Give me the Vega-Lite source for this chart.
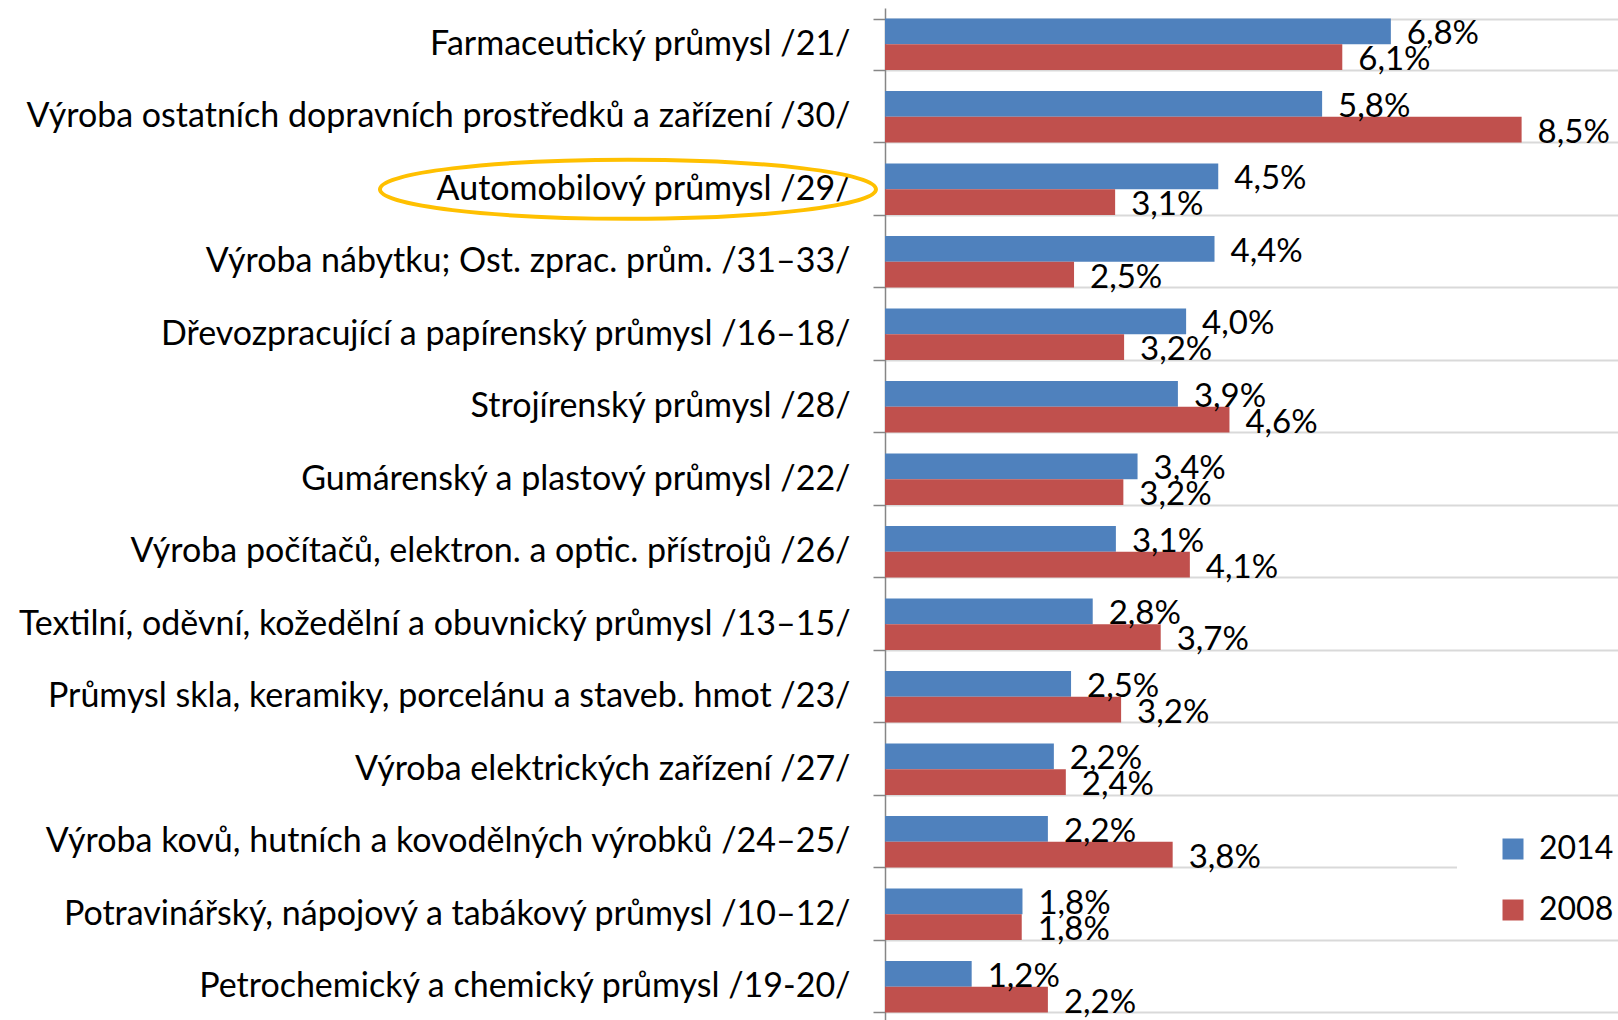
{
  "$schema": "https://vega.github.io/schema/vega-lite/v6.json",
  "autosize": "none",
  "width": 733,
  "height": 1015,
  "padding": {"left": 885, "top": 8, "right": 0, "bottom": 0},
  "background": "white",
  "config": {
    "view": {"stroke": null},
    "font": "Lato",
    "text": {"font": "Lato"}
  },
  "datasets": {
    "bars": [
      {"cat": "Farmaceutický průmysl /21/", "year": "2014", "value": 6.77, "label": "6,8%"},
      {"cat": "Farmaceutický průmysl /21/", "year": "2008", "value": 6.12, "label": "6,1%"},
      {"cat": "Výroba ostatních dopravních prostředků a zařízení /30/", "year": "2014", "value": 5.85, "label": "5,8%"},
      {"cat": "Výroba ostatních dopravních prostředků a zařízení /30/", "year": "2008", "value": 8.52, "label": "8,5%"},
      {"cat": "Automobilový průmysl /29/", "year": "2014", "value": 4.46, "label": "4,5%"},
      {"cat": "Automobilový průmysl /29/", "year": "2008", "value": 3.08, "label": "3,1%"},
      {"cat": "Výroba nábytku; Ost. zprac. prům. /31–33/", "year": "2014", "value": 4.41, "label": "4,4%"},
      {"cat": "Výroba nábytku; Ost. zprac. prům. /31–33/", "year": "2008", "value": 2.53, "label": "2,5%"},
      {"cat": "Dřevozpracující a papírenský průmysl /16–18/", "year": "2014", "value": 4.03, "label": "4,0%"},
      {"cat": "Dřevozpracující a papírenský průmysl /16–18/", "year": "2008", "value": 3.2, "label": "3,2%"},
      {"cat": "Strojírenský průmysl /28/", "year": "2014", "value": 3.92, "label": "3,9%"},
      {"cat": "Strojírenský průmysl /28/", "year": "2008", "value": 4.61, "label": "4,6%"},
      {"cat": "Gumárenský a plastový průmysl /22/", "year": "2014", "value": 3.38, "label": "3,4%"},
      {"cat": "Gumárenský a plastový průmysl /22/", "year": "2008", "value": 3.19, "label": "3,2%"},
      {"cat": "Výroba počítačů, elektron. a optic. přístrojů /26/", "year": "2014", "value": 3.09, "label": "3,1%"},
      {"cat": "Výroba počítačů, elektron. a optic. přístrojů /26/", "year": "2008", "value": 4.08, "label": "4,1%"},
      {"cat": "Textilní, oděvní, kožedělní a obuvnický průmysl /13–15/", "year": "2014", "value": 2.78, "label": "2,8%"},
      {"cat": "Textilní, oděvní, kožedělní a obuvnický průmysl /13–15/", "year": "2008", "value": 3.69, "label": "3,7%"},
      {"cat": "Průmysl skla, keramiky, porcelánu a staveb. hmot /23/", "year": "2014", "value": 2.49, "label": "2,5%"},
      {"cat": "Průmysl skla, keramiky, porcelánu a staveb. hmot /23/", "year": "2008", "value": 3.16, "label": "3,2%"},
      {"cat": "Výroba elektrických zařízení /27/", "year": "2014", "value": 2.26, "label": "2,2%"},
      {"cat": "Výroba elektrických zařízení /27/", "year": "2008", "value": 2.42, "label": "2,4%"},
      {"cat": "Výroba kovů, hutních a kovodělných výrobků /24–25/", "year": "2014", "value": 2.18, "label": "2,2%"},
      {"cat": "Výroba kovů, hutních a kovodělných výrobků /24–25/", "year": "2008", "value": 3.85, "label": "3,8%"},
      {"cat": "Potravinářský, nápojový a tabákový průmysl /10–12/", "year": "2014", "value": 1.84, "label": "1,8%"},
      {"cat": "Potravinářský, nápojový a tabákový průmysl /10–12/", "year": "2008", "value": 1.83, "label": "1,8%"},
      {"cat": "Petrochemický a chemický průmysl /19-20/", "year": "2014", "value": 1.16, "label": "1,2%"},
      {"cat": "Petrochemický a chemický průmysl /19-20/", "year": "2008", "value": 2.18, "label": "2,2%"}
    ],
    "highlight": [
      {"cat": "Automobilový průmysl /29/", "pos": -3.44}
    ]
  },
  "encoding": {
    "y": {
      "field": "cat",
      "type": "nominal",
      "sort": null,
      "scale": {"paddingInner": 0.29, "paddingOuter": 0.145},
      "axis": {
        "title": null,
        "tickBand": "extent",
        "labelFontSize": 34,
        "labelFont": "Lato",
        "labelColor": "#000000",
        "labelLimit": 1200,
        "labelPadding": 23,
        "tickSize": 12,
        "tickColor": "#868686",
        "tickWidth": 1.5,
        "domainColor": "#868686",
        "domainWidth": 1.5,
        "grid": true,
        "gridColor": "#d9d9d9",
        "gridWidth": 2
      }
    }
  },
  "layer": [
    {
      "data": {"name": "bars"},
      "mark": {"type": "bar", "cornerRadius": 0},
      "encoding": {
        "x": {"field": "value", "type": "quantitative", "scale": {"domain": [0, 9.81], "nice": false, "zero": true}, "axis": null},
        "yOffset": {"field": "year", "type": "nominal", "scale": {"domain": ["2014", "2008"], "paddingInner": 0, "paddingOuter": 0}},
        "color": {
          "field": "year",
          "type": "nominal",
          "scale": {"domain": ["2014", "2008"], "range": ["#4F81BD", "#C0504D"]},
          "legend": {
            "title": null,
            "orient": "none",
            "legendX": 572,
            "legendY": 813,
            "padding": 12,
            "symbolOffset": 28,
            "fillColor": "white",
            "symbolType": "square",
            "symbolSize": 441,
            "symbolStrokeWidth": 0,
            "labelFontSize": 32,
            "labelFont": "Lato",
            "labelColor": "#000000",
            "labelOffset": 10,
            "rowPadding": 29
          }
        }
      }
    },
    {
      "data": {"name": "bars"},
      "mark": {"type": "text", "align": "left", "baseline": "middle", "dx": 16, "dy": 3, "fontSize": 33, "font": "Lato", "color": "#000000"},
      "encoding": {
        "x": {"field": "value", "type": "quantitative"},
        "yOffset": {"field": "year", "type": "nominal"},
        "text": {"field": "label"}
      }
    },
    {
      "data": {"name": "highlight"},
      "mark": {
        "type": "point",
        "shape": "M-1,0A1,0.119,0,1,0,1,0A1,0.119,0,1,0,-1,0Z",
        "size": 246016,
        "filled": false,
        "stroke": "#FFC000",
        "strokeWidth": 4,
        "opacity": 1
      },
      "encoding": {
        "x": {"field": "pos", "type": "quantitative"}
      }
    }
  ]
}
